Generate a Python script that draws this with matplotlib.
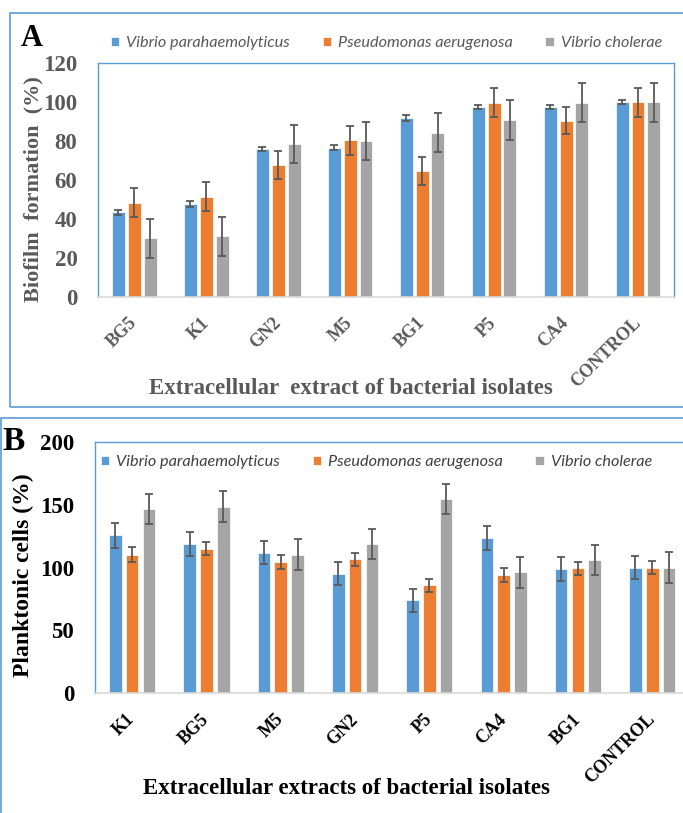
import numpy as np
import matplotlib
matplotlib.use("Agg")
import matplotlib.pyplot as plt
from matplotlib.patches import Rectangle

# panel A: biofilm formation (%)
cats_a = ['BG5', 'K1', 'GN2', 'M5', 'BG1', 'P5', 'CA4', 'CONTROL']
vp_a = [43.4, 47.6, 75.8, 76.6, 91.8, 97.6, 97.6, 100.0]
vp_a_err = [1.3, 1.4, 1.0, 1.2, 1.5, 1.2, 1.0, 1.0]
pa_a = [48.3, 51.4, 67.8, 80.5, 64.7, 99.8, 90.4, 100.0]
pa_a_err = [7.4, 7.4, 7.2, 7.4, 7.1, 7.3, 7.0, 7.4]
vc_a = [30.1, 31.0, 78.5, 80.0, 84.3, 90.9, 99.8, 100.0]
vc_a_err = [10.1, 10.0, 10.0, 9.9, 10.1, 10.2, 10.0, 10.0]

# panel B: planktonic cells (%)
cats_b = ['K1', 'BG5', 'M5', 'GN2', 'P5', 'CA4', 'BG1', 'CONTROL']
vp_b = [125.6, 118.7, 111.9, 95.0, 73.8, 123.3, 98.9, 100.0]
vp_b_err = [9.8, 9.5, 9.5, 9.0, 9.1, 9.3, 9.4, 9.3]
pa_b = [110.3, 115.0, 104.2, 106.6, 85.7, 94.1, 99.4, 100.0]
pa_b_err = [5.6, 5.2, 5.4, 5.3, 5.2, 5.3, 5.0, 5.0]
vc_b = [146.8, 148.4, 110.3, 118.7, 154.8, 96.3, 105.8, 100.0]
vc_b_err = [12.0, 12.3, 12.2, 12.0, 11.9, 12.2, 12.0, 12.4]

species = ['Vibrio parahaemolyticus', 'Pseudomonas aerugenosa', 'Vibrio cholerae']
colors = ['#5B9BD5', '#ED7D31', '#A5A5A5']
frame_blue = '#5B9BD5'
W, H = 683, 813
serif = ['Liberation Serif', 'DejaVu Serif']


def px(x, y):
    return x / W, 1 - y / H


fig = plt.figure(figsize=(W / 100, H / 100), dpi=100)

# outer panel frames
fig.patches.append(Rectangle(px(10, 407), 700 / W, 394 / H, transform=fig.transFigure,
                             fill=False, ec=frame_blue, lw=1.2))
fig.patches.append(Rectangle(px(1, 840), 700 / W, 422 / H, transform=fig.transFigure,
                             fill=False, ec=frame_blue, lw=1.2))


def panel(ax, cats, series, errs, ymax, ystep, tcolor, width, off, tick_pad):
    x = np.arange(len(cats))
    for i, (vals, err) in enumerate(zip(series, errs)):
        ax.bar(x + (i - 1) * off, vals, width, color=colors[i], ec='white', lw=0.5,
               label=species[i], zorder=2)
        ax.errorbar(x + (i - 1) * off, vals, yerr=err, fmt='none', ecolor='#595959',
                    elinewidth=1.3, capsize=3, capthick=1.3, zorder=3)
    ax.set_xlim(-0.5, len(cats) - 0.5)
    ax.set_ylim(0, ymax)
    ax.set_yticks(np.arange(0, ymax + 1, ystep))
    ax.set_xticks(x)
    ax.set_xticklabels(cats, rotation=45, ha='right', va='center', rotation_mode='anchor',
                       family=serif, weight='bold', fontsize=13, color=tcolor)
    for lab in ax.get_yticklabels():
        lab.set_family(serif)
        lab.set_weight('bold')
        lab.set_fontsize(16.5)
        lab.set_color(tcolor)
    ax.tick_params(axis='x', length=0, pad=tick_pad)
    ax.tick_params(axis='y', length=0, pad=15)
    for s in ['top', 'left', 'right']:
        ax.spines[s].set_color(frame_blue)
        ax.spines[s].set_linewidth(1.0)
    ax.spines['bottom'].set_color('#D9D9D9')
    ax.spines['bottom'].set_linewidth(1.2)


def legend(ax, xy, tcolor):
    leg = ax.legend(loc='center left', bbox_to_anchor=px(*xy), bbox_transform=fig.transFigure,
                    ncol=3, frameon=False, handlelength=0.5, handleheight=0.5,
                    handletextpad=0.45, columnspacing=2.0, borderpad=0, borderaxespad=0,
                    prop={'family': 'Lato', 'style': 'italic', 'size': 11.7})
    for t in leg.get_texts():
        t.set_color(tcolor)


# panel A
axa = fig.add_axes([98.3 / W, 1 - 296.7 / H, (674 - 98.3) / W, (296.7 - 63.3) / H])
panel(axa, cats_a, [vp_a, pa_a, vc_a], [vp_a_err, pa_a_err, vc_a_err],
      120, 20, '#595959', 0.18, 0.22, 17)
legend(axa, (111, 43), '#595959')

fig.text(*px(32, 39), 'A', family=serif, weight='bold', fontsize=22, ha='center', va='center')
fig.text(*px(33, 189), 'Biofilm  formation  (%)', family=serif, weight='bold', fontsize=16,
         color='#595959', rotation=90, ha='center', va='center')
fig.text(*px(351, 388), 'Extracellular  extract of bacterial isolates', family=serif,
         weight='bold', fontsize=16.5, color='#595959', ha='center', va='center')

# panel B
axb = fig.add_axes([95 / W, 1 - 693.3 / H, 594.4 / W, (693.3 - 441.7) / H])
axb.spines['right'].set_visible(False)
panel(axb, cats_b, [vp_b, pa_b, vc_b], [vp_b_err, pa_b_err, vc_b_err],
      200, 50, 'black', 0.17, 0.226, 17)
legend(axb, (101, 462), '#404040')

fig.text(*px(14, 441), 'B', family=serif, weight='bold', fontsize=24, ha='center', va='center')
fig.text(*px(23, 575), 'Planktonic cells (%)', family=serif, weight='bold', fontsize=17,
         rotation=90, ha='center', va='center')
fig.text(*px(346, 788), 'Extracellular extracts of bacterial isolates', family=serif,
         weight='bold', fontsize=16.5, ha='center', va='center')

fig.savefig('out.png', dpi=100)
